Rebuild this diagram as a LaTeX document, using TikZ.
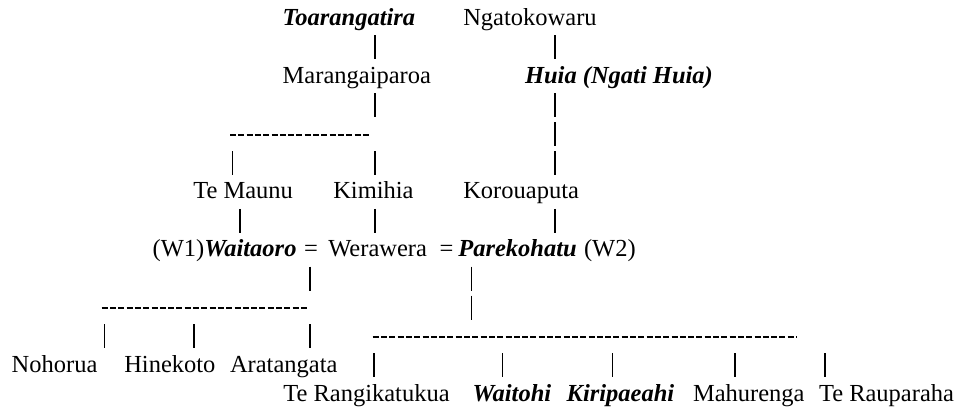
\documentclass[tikz,border=0pt]{standalone}
\usepackage{fontspec}
\setmainfont{Liberation Serif}
\begin{document}
\begin{tikzpicture}[x=1pt,y=-1pt,
  every node/.style={inner sep=0pt,outer sep=0pt,font=\fontsize{24.5}{29}\selectfont},
  nm/.style={anchor=base west},
  bi/.style={anchor=base west,font=\fontsize{24.5}{29}\selectfont\bfseries\itshape},
  eq/.style={anchor=base},
  pipe/.style={minimum width=2pt,minimum height=24pt,
    path picture={\draw[line width=1.2pt] (path picture bounding box.north) -- (path picture bounding box.south);}},
  dashrow/.style={line width=1.8pt,dash pattern=on 6pt off 2.3pt}]
\useasboundingbox (0,0) rectangle (955,408);
% row 0
\node[bi] (toa) at (282.7,25.5) {Toarangatira};
\node[nm] (nga) at (463.3,25.5) {Ngatokowaru};
% row 1 (pipe centre = baseline - 7)
\node[pipe] (p1a) at (375,47.4) {};
\node[pipe] (p1b) at (555,47.4) {};
% row 2
\node[nm] (mar) at (282.7,83.3) {Marangaiparoa};
\node[bi] (hui) at (525,83.3) {Huia (Ngati Huia)};
% row 3
\node[pipe] (p3a) at (375,105.2) {};
\node[pipe] (p3b) at (555,105.2) {};
% row 4
\coordinate (d1s) at (230,135);
\coordinate (d1e) at (371,135);
\draw[dashrow] (d1s) -- (d1e);
\node[pipe] (p4b) at (555,134.1) {};
% row 5
\node[pipe] (p5a) at (232.3,163) {};
\node[pipe] (p5b) at (375,163) {};
\node[pipe] (p5c) at (555,163) {};
% row 6
\node[nm] (tem) at (193.3,198.9) {Te Maunu};
\node[nm] (kim) at (333.3,198.9) {Kimihia};
\node[nm] (kor) at (463.3,198.9) {Korouaputa};
% row 7
\node[pipe] (p7a) at (240,220.8) {};
\node[pipe] (p7b) at (375,220.8) {};
\node[pipe] (p7c) at (555,220.8) {};
% row 8
\node[nm] (wai1) at (152.7,256.7) {(W1)\textbf{\textit{Waitaoro}}};
\node[eq] (eq1) at (311,256.7) {=};
\node[nm] (wer) at (328.3,256.7) {Werawera};
\node[eq] (eq2) at (446.5,256.7) {=};
\node[bi] (par) at (458.3,256.7) {Parekohatu};
\node[nm] (w2) at (584,256.7) {(W2)};
% row 9
\node[pipe] (p9a) at (310,278.6) {};
\node[pipe] (p9b) at (471.5,278.6) {};
% row 10
\coordinate (d2s) at (101.7,308);
\coordinate (d2e) at (309,308);
\draw[dashrow] (d2s) -- (d2e);
\node[pipe] (p10b) at (471.5,307.5) {};
% row 11
\node[pipe] (p11a) at (104.3,336.4) {};
\node[pipe] (p11b) at (194,336.4) {};
\node[pipe] (p11c) at (310,336.4) {};
\coordinate (d3s) at (372.7,337);
\coordinate (d3e) at (797,337);
\draw[dashrow] (d3s) -- (d3e);
% row 12
\node[nm] (noh) at (11.7,372.3) {Nohorua};
\node[nm] (hin) at (124.3,372.3) {Hinekoto};
\node[nm] (ara) at (230,372.3) {Aratangata};
\node[pipe] (p12a) at (374,365.3) {};
\node[pipe] (p12b) at (502.7,365.3) {};
\node[pipe] (p12c) at (612.7,365.3) {};
\node[pipe] (p12d) at (735,365.3) {};
\node[pipe] (p12e) at (825,365.3) {};
% row 13
\node[nm] (ter) at (283.3,401.2) {Te Rangikatukua};
\node[bi] (wai) at (472.7,401.2) {Waitohi};
\node[bi] (kir) at (566.7,401.2) {Kiripaeahi};
\node[nm] (mah) at (693,401.2) {Mahurenga};
\node[nm] (rau) at (819,401.2) {Te Rauparaha};
\end{tikzpicture}
\end{document}
